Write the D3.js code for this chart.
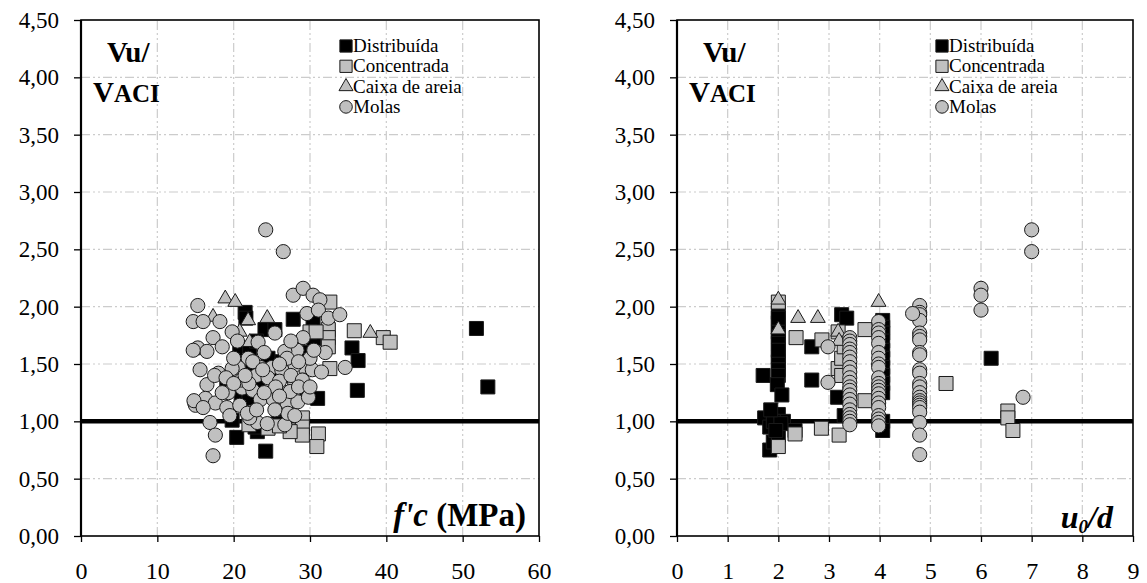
<!DOCTYPE html>
<html><head><meta charset="utf-8">
<script src="https://cdn.jsdelivr.net/npm/d3@7"></script>
<style>
body{margin:0;background:#fff}svg{display:block}
svg text{font-family:"Liberation Serif","Times New Roman",Times,serif !important;}
</style>
</head><body>
<svg id="c" width="1147" height="583"></svg>
<script>
// ---------- DATA ----------
const yTicks = [0,0.5,1,1.5,2,2.5,3,3.5,4,4.5];
const yTickLabels = ["0,00","0,50","1,00","1,50","2,00","2,50","3,00","3,50","4,00","4,50"];
const xTicksLeft = [0,10,20,30,40,50,60];
const xTicksRight = [0,1,2,3,4,5,6,7,8,9];
const seriesNames = ["Distribuída","Concentrada","Caixa de areia","Molas"];

// Left panel: f'c (MPa) vs Vu/VACI
const distLeft = [[51.8,1.81],[53.3,1.30],[35.5,1.64],[36.3,1.53],[36.2,1.27],[20.4,0.86],[24.2,0.74],[23.1,0.91],[19.8,1.01],[21.5,1.95],[21.6,1.90],[27.8,1.89],[30.4,1.88],[24.1,1.80],[25.4,1.80],[20.8,1.62],[22.1,1.60],[28.3,1.68],[29.6,1.23],[19.1,1.30],[22.5,1.45],[23.5,1.35],[26.0,1.52],[29.0,1.60],[31.0,1.20],[26.5,1.05],[21.0,1.20],[24.5,1.55],[22.0,1.18],[25.5,1.42],[27.0,1.40],[30.5,1.72],[23.0,1.70],[22.8,0.95],[25.8,0.98]];
const concLeft = [[35.8,1.79],[39.6,1.73],[40.5,1.69],[32.6,2.04],[32.4,1.80],[32.4,1.73],[32.4,1.65],[32.6,1.46],[30.0,1.78],[29.0,1.03],[29.0,0.95],[29.0,0.88],[31.1,0.89],[30.9,0.78],[27.4,0.91],[24.5,0.94],[26.0,0.96],[22.0,0.97],[29.5,1.48],[26.5,1.25],[28.0,1.32],[30.8,1.78]];
const caixaLeft = [[18.9,2.07],[20.2,2.04],[21.9,1.88],[24.4,1.90],[37.9,1.77],[17.3,1.91],[20.8,1.78],[22.1,1.69]];
const molasLeft = [[24.2,2.67],[26.5,2.48],[15.3,2.01],[14.7,1.87],[16.0,1.87],[18.2,1.87],[19.8,1.78],[17.3,1.73],[18.5,1.65],[15.3,1.64],[16.5,1.61],[14.7,1.62],[27.8,2.10],[29.1,2.16],[30.4,2.10],[31.3,2.06],[29.6,1.94],[31.1,1.97],[32.4,1.90],[33.9,1.93],[25.4,1.77],[23.2,1.69],[29.1,1.73],[28.3,1.62],[26.7,1.61],[34.6,1.47],[30.3,1.45],[28.0,1.49],[15.6,1.45],[18.0,1.42],[21.9,1.55],[20.6,1.47],[19.8,1.46],[23.5,1.47],[25.0,1.47],[26.3,1.45],[16.5,1.32],[19.3,1.25],[21.1,1.29],[22.5,1.27],[14.9,1.16],[16.3,1.20],[17.6,1.16],[19.1,1.12],[20.8,1.14],[22.1,1.08],[23.5,1.19],[25.2,1.19],[27.0,1.16],[28.4,1.17],[29.8,1.21],[27.4,1.26],[25.0,1.32],[16.9,0.99],[17.6,0.88],[17.3,0.70],[23.1,0.99],[24.4,0.98],[22.1,1.03],[26.7,0.97],[27.1,1.07],[21.8,1.07],[25.4,1.10],[17.5,1.40],[19.0,1.38],[21.0,1.36],[23.0,1.40],[24.5,1.38],[26.0,1.35],[27.5,1.40],[29.0,1.36],[22.0,1.33],[25.5,1.30],[28.5,1.30],[20.0,1.33],[20.0,1.55],[24.0,1.60],[27.0,1.55],[30.0,1.55],[22.5,1.52],[26.0,1.50],[28.5,1.52],[15.0,1.14],[14.8,1.18],[16.0,1.12],[32.0,1.60],[31.5,1.43],[20.5,1.70],[24.0,1.25],[26.0,1.22],[23.0,1.10],[19.5,1.05],[28.0,1.05],[30.0,1.30],[18.5,1.25],[27.5,1.70],[30.5,1.62],[23.8,1.45],[21.5,1.40]];

// Right panel: u0/d vs Vu/VACI
const distRight = [[2.0,1.95],[2.0,1.86],[2.0,1.78],[2.0,1.74],[2.0,1.68],[2.0,1.56],[2.0,1.52],[2.0,1.62],[2.0,1.90],[2.0,1.45],[2.0,1.40],[1.70,1.40],[1.98,1.32],[2.07,1.23],[1.73,1.03],[2.0,1.06],[1.83,0.95],[1.83,0.75],[1.90,0.82],[2.0,0.88],[2.1,1.00],[2.33,0.92],[2.66,1.65],[2.66,1.36],[3.25,1.93],[3.35,1.90],[3.17,1.21],[3.3,1.05],[4.06,1.88],[4.06,1.82],[4.06,1.77],[4.06,1.70],[4.06,1.62],[4.06,1.55],[4.06,1.47],[4.06,1.40],[4.06,1.33],[4.06,1.00],[4.06,0.92],[6.2,1.55],[1.9,1.0],[2.05,0.98],[4.06,1.25],[1.85,1.10],[1.95,0.92]];
const concRight = [[2.0,2.04],[2.0,0.78],[2.33,0.89],[2.85,0.94],[3.2,0.88],[2.35,1.73],[2.86,1.71],[3.18,1.78],[3.18,1.46],[3.25,1.55],[3.71,1.80],[3.71,1.18],[5.31,1.33],[6.53,1.09],[6.53,1.03],[6.63,0.92],[3.3,1.65],[3.25,1.40]];
const caixaRight = [[2.0,2.06],[2.0,1.80],[2.39,1.90],[2.78,1.90],[3.18,1.78],[3.98,2.04],[3.2,1.70]];
const molasRight = [[3.41,1.73],[3.41,1.70],[3.41,1.67],[3.41,1.63],[3.41,1.60],[3.41,1.56],[3.41,1.52],[3.41,1.47],[3.41,1.43],[3.41,1.38],[3.41,1.34],[3.41,1.30],[3.41,1.27],[3.41,1.23],[3.41,1.19],[3.41,1.15],[3.41,1.10],[3.41,1.06],[3.41,1.03],[3.41,1.00],[3.41,0.97],[2.98,1.65],[2.98,1.34],
[3.98,1.87],[3.98,1.80],[3.98,1.77],[3.98,1.73],[3.98,1.68],[3.98,1.60],[3.98,1.55],[3.98,1.50],[3.98,1.47],[3.98,1.38],[3.98,1.33],[3.98,1.30],[3.98,1.27],[3.98,1.24],[3.98,1.20],[3.98,1.16],[3.98,1.12],[3.98,1.05],[3.98,1.02],[3.98,0.99],[3.98,0.96],
[4.79,2.01],[4.79,1.95],[4.79,1.93],[4.79,1.88],[4.79,1.77],[4.79,1.74],[4.79,1.71],[4.79,1.60],[4.79,1.58],[4.79,1.45],[4.79,1.42],[4.79,1.33],[4.79,1.30],[4.79,1.25],[4.79,1.21],[4.79,1.18],[4.79,1.16],[4.79,1.14],[4.79,1.12],[4.79,1.08],[4.79,0.99],[4.79,0.88],[4.79,0.71],[4.65,1.94],
[6.0,2.16],[6.0,2.10],[6.0,1.97],[7.0,2.67],[7.0,2.48],[6.83,1.21]];

// ---------- DRAW ----------
const svg = d3.select("#c");
const GREY = "#c0c0c0";
const y = d3.scaleLinear().domain([0,4.5]).range([536,20]);
const xL = d3.scaleLinear().domain([0,60]).range([81,539]);
const xR = d3.scaleLinear().domain([0,9]).range([677,1133]);

const sym = {
  sq: d3.symbol().type(d3.symbolSquare).size(196)(),
  tri: d3.symbol().type(d3.symbolTriangle).size(95)(),
  circ: d3.symbol().type(d3.symbolCircle).size(158)()
};

function panel(x, xTicks, series, title) {
  const g = svg.append("g");
  const [x0,x1] = x.range();
  // grid
  const grid = g.append("g").attr("stroke","#cccccc").attr("stroke-width",1.2)
    .attr("stroke-dasharray","9,3,2,3,2,3");
  grid.selectAll("line.h").data(yTicks.slice(1,-1)).join("line")
    .attr("x1",x0).attr("x2",x1).attr("y1",d=>y(d)).attr("y2",d=>y(d));
  grid.selectAll("line.v").data(xTicks.slice(1,-1)).join("line")
    .attr("x1",d=>x(d)).attr("x2",d=>x(d)).attr("y1",y(0)).attr("y2",y(4.5));
  // axes
  const ya = g.append("g").attr("transform",`translate(${x0},0)`)
    .call(d3.axisLeft(y).tickValues(yTicks).tickFormat((d,i)=>yTickLabels[i]).tickSize(7).tickSizeOuter(0).tickPadding(15));
  const xa = g.append("g").attr("transform",`translate(0,${y(0)})`)
    .call(d3.axisBottom(x).tickValues(xTicks).tickFormat(d=>String(d)).tickSize(6).tickSizeOuter(0).tickPadding(20));
  [ya,xa].forEach(a=>{a.attr("font-family",null);a.select(".domain").remove();a.selectAll("line").attr("stroke","#000").attr("stroke-width",1.3);
    a.selectAll("text").attr("fill","#000");});
  ya.attr("font-size",23);
  xa.attr("font-size",24);
  // frame
  g.append("rect").attr("x",x0).attr("y",y(4.5)).attr("width",x1-x0).attr("height",y(0)-y(4.5))
    .attr("fill","none").attr("stroke","#000").attr("stroke-width",1.6);
  g.append("line").attr("x1",x0).attr("x2",x0).attr("y1",y(0)).attr("y2",y(4.5)).attr("stroke","#000").attr("stroke-width",2.2);
  // reference line at 1.00
  g.append("line").attr("x1",x0).attr("x2",x1).attr("y1",y(1)).attr("y2",y(1)).attr("stroke","#000").attr("stroke-width",4.5);
  // points
  const styles = [
    {p:sym.sq, fill:"#000"},
    {p:sym.sq, fill:GREY},
    {p:sym.tri, fill:GREY},
    {p:sym.circ, fill:GREY}
  ];
  series.forEach((data,i)=>{
    g.append("g").selectAll("path").data(data).join("path")
      .attr("d",styles[i].p).attr("transform",d=>`translate(${x(d[0])},${y(d[1])})`)
      .attr("fill",styles[i].fill).attr("stroke","#1a1a1a").attr("stroke-width",1);
  });
  // Y label
  const lab = g.append("g").attr("font-weight","bold").attr("fill","#000");
  lab.append("text").attr("x",x0+26).attr("y",62).attr("font-size",29).text("Vu/");
  const t2 = lab.append("text").attr("x",x0+12).attr("y",102);
  t2.append("tspan").attr("font-size",29).text("V");
  t2.append("tspan").attr("font-size",25).text("ACI");
  // legend
  const lx = x0 + 265, ly0 = 46, step = 20.3;
  const lg = g.append("g");
  seriesNames.forEach((n,i)=>{
    const sz = i<2 ? 150 : (i==2 ? 85 : 125);
    const type = i<2 ? d3.symbolSquare : (i==2 ? d3.symbolTriangle : d3.symbolCircle);
    lg.append("path").attr("d",d3.symbol().type(type).size(sz)())
      .attr("transform",`translate(${lx},${ly0+i*step})`)
      .attr("fill",styles[i].fill).attr("stroke","#1a1a1a").attr("stroke-width",1);
    lg.append("text").attr("x",lx+7).attr("y",ly0+i*step+6)
      .attr("font-size",19).attr("fill","#000").text(n);
  });
  title(g, x1);
}

panel(xL, xTicksLeft, [distLeft,concLeft,caixaLeft,molasLeft], (g,x1)=>{
  const t = g.append("text").attr("x",x1-13).attr("y",526).attr("text-anchor","end")
    .attr("font-weight","bold").attr("font-size",33).attr("fill","#000");
  t.append("tspan").attr("font-style","italic").text("f'c");
  t.append("tspan").text(" (MPa)");
});
panel(xR, xTicksRight, [distRight,concRight,caixaRight,molasRight], (g,x1)=>{
  const t = g.append("text").attr("x",x1-20).attr("y",528).attr("text-anchor","end")
    .attr("font-weight","bold").attr("font-style","italic").attr("font-size",32).attr("fill","#000");
  t.append("tspan").text("u");
  t.append("tspan").attr("font-size",19).attr("dy",5).text("0");
  t.append("tspan").attr("dy",-5).text("/d");
});
</script>
</body></html>
